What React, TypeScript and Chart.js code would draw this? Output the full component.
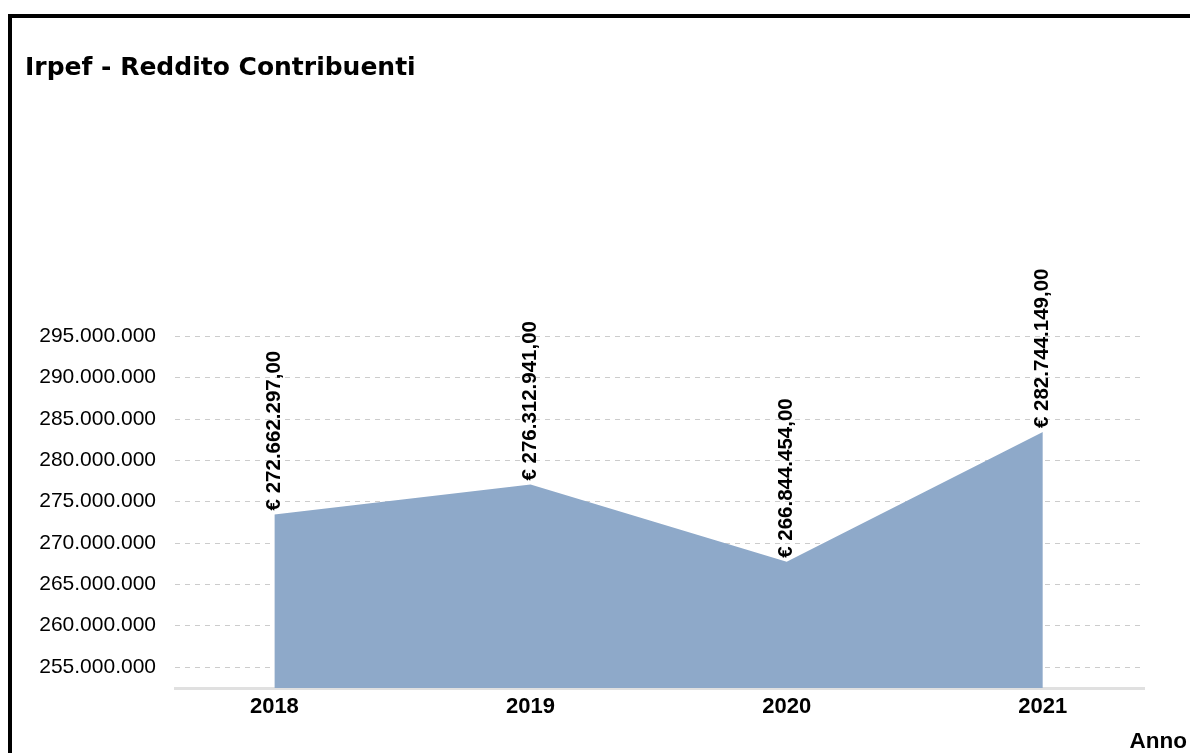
import React, { useEffect, useRef } from "react";
import { Chart, registerables } from "chart.js";

Chart.register(...registerables);

const years: string[] = ["2018", "2019", "2020", "2021"];
const incomeValues: number[] = [272662297, 276312941, 266844454, 282744149];
const yTickValues: number[] = [
  255000000, 260000000, 265000000, 270000000, 275000000,
  280000000, 285000000, 290000000, 295000000,
];

const TITLE = "Irpef - Reddito Contribuenti";
const AXIS_NAME = "Anno";
const AREA = "rgb(142,169,201)";

function fmtIt(v: number, decimals: number): string {
  const fixed = v.toFixed(decimals);
  const [intPart, decPart] = fixed.split(".");
  const grouped = intPart.replace(/\B(?=(\d{3})+(?!\d))/g, ".");
  return decPart ? grouped + "," + decPart : grouped;
}

const valueLabels = {
  id: "valueLabels",
  afterDatasetsDraw(chart: any) {
    const ctx = chart.ctx;
    const meta = chart.getDatasetMeta(0);
    ctx.save();
    ctx.fillStyle = "#000";
    ctx.font = 'bold 20.5px "Liberation Sans", Arial, sans-serif';
    ctx.textAlign = "left";
    ctx.textBaseline = "middle";
    meta.data.forEach((pt: any, i: number) => {
      const text = "€ " + fmtIt(incomeValues[i], 2);
      ctx.save();
      ctx.translate(pt.x, pt.y - 4);
      ctx.rotate(-Math.PI / 2);
      ctx.fillText(text, 0, 0);
      ctx.restore();
    });
    ctx.restore();
  },
};

const axisName = {
  id: "axisName",
  afterDraw(chart: any) {
    const ctx = chart.ctx;
    const area = chart.chartArea;
    ctx.save();
    ctx.fillStyle = "#000";
    ctx.font = 'bold 22.5px "Liberation Sans", Arial, sans-serif';
    ctx.textAlign = "right";
    ctx.textBaseline = "alphabetic";
    ctx.fillText(AXIS_NAME, area.right + 43, area.bottom + 60);
    ctx.restore();
  },
};

export default function App() {
  const ref = useRef<HTMLCanvasElement | null>(null);

  useEffect(() => {
    if (!ref.current) return;
    const chart = new Chart(ref.current, {
      type: "line",
      data: {
        datasets: [
          {
            data: incomeValues.map((v, i) => ({ x: i, y: v })),
            xAxisID: "x",
            yAxisID: "yData",
            fill: "start",
            backgroundColor: AREA,
            borderColor: AREA,
            borderWidth: 0,
            pointRadius: 0,
            tension: 0,
          },
        ],
      },
      options: {
        responsive: false,
        animation: false,
        layout: { padding: { left: 25, right: 46, top: 10, bottom: 0 } },
        plugins: {
          legend: { display: false },
          tooltip: { enabled: false },
          title: {
            display: true,
            text: TITLE,
            align: "start",
            color: "#000",
            font: { family: "DejaVu Sans", size: 25, weight: "bold", lineHeight: 1.2 },
            padding: { top: 43, bottom: 212 },
          },
        },
        scales: {
          x: {
            type: "linear",
            min: -0.388,
            max: 3.395,
            afterBuildTicks: (ax: any) => {
              ax.ticks = years.map((_, i) => ({ value: i }));
            },
            afterFit: (s: any) => {
              s.height = 65;
            },
            grid: { display: false, drawTicks: false },
            border: { display: true, color: "#e0e0e0", width: 3 },
            ticks: {
              padding: 6,
              color: "#000",
              maxRotation: 0,
              autoSkip: false,
              font: { family: "Liberation Sans", size: 22, weight: "bold" },
              callback: (v: any) => years[v] ?? "",
            },
          },
          y: {
            type: "linear",
            position: "left",
            min: 252460000,
            max: 300000000,
            afterBuildTicks: (ax: any) => {
              ax.ticks = yTickValues.map((v) => ({ value: v }));
            },
            afterFit: (s: any) => {
              s.width = 150;
            },
            grid: { color: "#cccccc", lineWidth: 1, drawTicks: false },
            border: { display: false, dash: [5, 5] },
            ticks: {
              padding: 19,
              color: "#000",
              font: { family: "Liberation Sans", size: 21 },
              callback: (v: any) => fmtIt(Number(v), 0),
            },
          },
          yData: {
            type: "linear",
            display: false,
            min: 251386000,
            max: 299548000,
          },
        },
      } as any,
      plugins: [valueLabels, axisName],
    });
    return () => chart.destroy();
  }, []);

  return (
    <div style={{ position: "fixed", inset: 0, overflow: "hidden", background: "#fff" }}>
      <div
        style={{
          position: "absolute",
          left: 8,
          top: 14,
          width: 2000,
          height: 2000,
          border: "4px solid #000",
        }}
      />
      <canvas
        ref={ref}
        width={1190}
        height={753}
        style={{ position: "absolute", left: 0, top: 0, width: 1190, height: 753 }}
      />
    </div>
  );
}
